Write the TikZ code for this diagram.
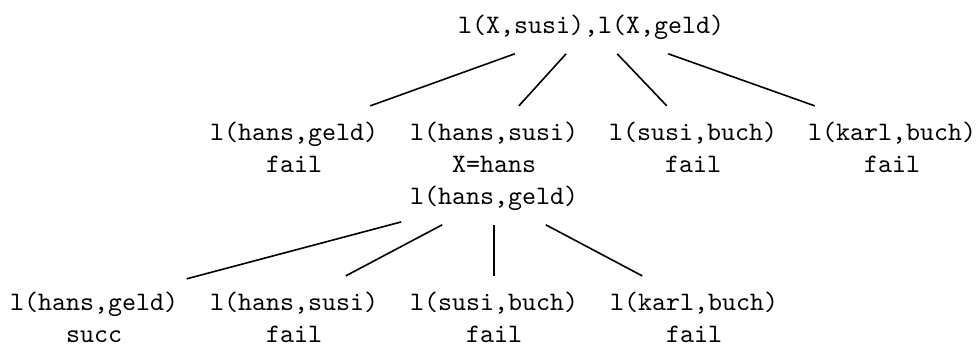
\documentclass[tikz,border=0pt]{standalone}
\usepackage{amsmath,amssymb}
\usepackage{tikz}
\usetikzlibrary{calc}

\begin{document}
\begin{tikzpicture}[x=0.375pt,y=-0.375pt,semithick,
  goal/.style={font=\ttfamily,anchor=base,text height=7.5pt,text depth=2.5pt,inner xsep=3pt,inner ysep=5pt},
  note/.style={font=\ttfamily,anchor=base,inner sep=0pt}]%SLD-Baum
\useasboundingbox (0,0) rectangle (976,347);
\node[goal] (root) at (591,33) {l(X,susi),l(X,geld)};
% erster Schritt
\node[goal] (a1) at (294,140) {l(hans,geld)};
\node[goal] (a2) at (494,140) {l(hans,susi)};
\node[goal] (a3) at (693,140) {l(susi,buch)};
\node[goal] (a4) at (892,140) {l(karl,buch)};
\node[note] (r1) at (294,172) {fail};
\node[note] (r2) at (494,172) {X=hans};
\node[note] (r3) at (693,172) {fail};
\node[note] (r4) at (892,172) {fail};
\node[goal] (b) at (494,204) {l(hans,geld)};
% zweiter Schritt
\node[goal] (b1) at (94,310) {l(hans,geld)};
\node[goal] (b2) at (294,310) {l(hans,susi)};
\node[goal] (b3) at (494,310) {l(susi,buch)};
\node[goal] (b4) at (694,310) {l(karl,buch)};
\node[note] (s1) at (94,342) {succ};
\node[note] (s2) at (294,342) {fail};
\node[note] (s3) at (494,342) {fail};
\node[note] (s4) at (694,342) {fail};
\foreach \i in {1,2,3,4} {
  \draw (root) -- (a\i);
  \draw (b) -- (b\i);
}
\end{tikzpicture}
\end{document}
